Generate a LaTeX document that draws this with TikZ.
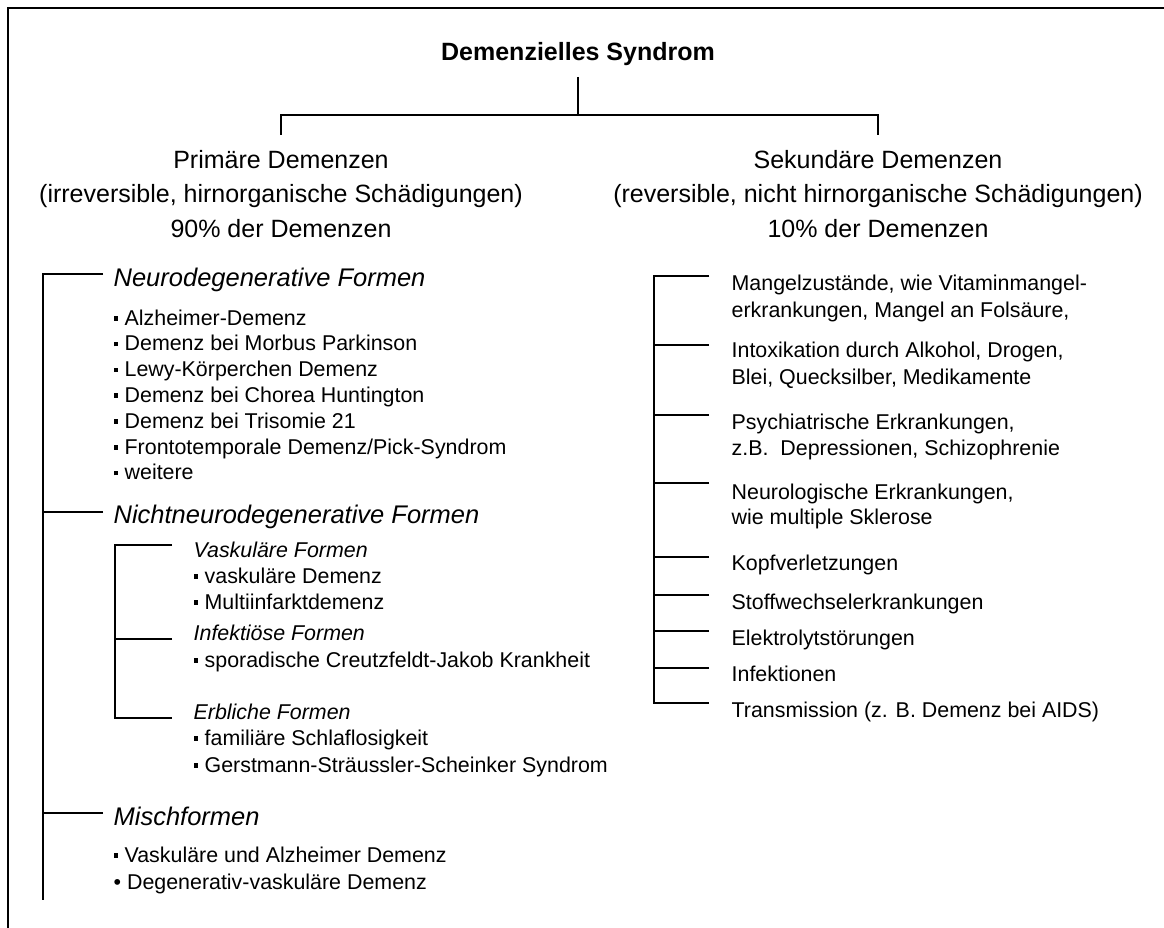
\documentclass[tikz,border=0pt]{standalone}
\usepackage{fontspec}
\setmainfont{Liberation Sans}
\usetikzlibrary{positioning}
\newcommand{\pkt}{\rule[4.5pt]{4.5pt}{4.5pt}\hspace{6.5pt}}

\begin{document}
\begin{tikzpicture}[x=1pt, y=-1pt, line width=1.3pt,
    every node/.style={inner sep=0pt, anchor=base west},
    titel/.style={font=\fontsize{25}{30}\selectfont\bfseries, anchor=base},
    haupt/.style={font=\fontsize{25}{30}\selectfont, anchor=base},
    form/.style={font=\fontsize{25.5}{30}\selectfont\itshape},
    unterform/.style={font=\fontsize{21.4}{26}\selectfont\itshape},
    punkt/.style={font=\fontsize{21.4}{26}\selectfont}]
    \useasboundingbox (0,0) rectangle (1164,928);
    \draw[line width=1.6pt] (8,928) -- (8,8) -- (1164,8);

    % Kopf
    \node [titel] (syndrom) at (578,61) {Demenzielles Syndrom};
    \node [haupt] (prim) at (281,169) {Primäre Demenzen};
    \node [haupt] (primA) at (281,203) {(irreversible, hirnorganische Schädigungen)};
    \node [haupt] (primB) at (281,237) {90\% der Demenzen};
    \node [haupt] (sek) at (878,169) {Sekundäre Demenzen};
    \node [haupt] (sekA) at (878,203) {(reversible, nicht hirnorganische Schädigungen)};
    \node [haupt] (sekB) at (878,237) {10\% der Demenzen};

    \coordinate (stamm) at (578,77);
    \coordinate (gabel) at (578,115);
    \coordinate (astL) at (281,135);
    \coordinate (astR) at (878,135);
    \draw (stamm) -- (gabel);
    \draw (astL) |- (gabel) -| (astR);

    % primaere Demenzen
    \node [form] (neuro) at (113,286) {Neurodegenerative Formen};
    \foreach \t [count=\i from 0] in {Alzheimer-Demenz, Demenz bei Morbus Parkinson,
        Lewy-Körperchen Demenz, Demenz bei Chorea Huntington, Demenz bei Trisomie 21,
        Frontotemporale Demenz/Pick-Syndrom, weitere}
        \node [punkt] (neuro\i) at (113,{325+25.8*\i}) {\pkt\t};
    \node [form] (nicht) at (113,523) {Nichtneurodegenerative Formen};
    \node [unterform] (vask) at (193,557) {Vaskuläre Formen};
    \node [punkt] (vask1) at (193,583) {\pkt vaskuläre Demenz};
    \node [punkt] (vask2) at (193,609) {\pkt Multiinfarktdemenz};
    \node [unterform] (infekt) at (193,640) {Infektiöse Formen};
    \node [punkt] (infekt1) at (193,667) {\pkt sporadische Creutzfeldt-Jakob Krankheit};
    \node [unterform] (erb) at (193,719) {Erbliche Formen};
    \node [punkt] (erb1) at (193,745) {\pkt familiäre Schlaflosigkeit};
    \node [punkt] (erb2) at (193,772) {\pkt Gerstmann-Sträussler-Scheinker Syndrom};
    \node [form] (misch) at (113,825) {Mischformen};
    \node [punkt] (misch1) at (113,862) {\pkt Vaskuläre und Alzheimer Demenz};
    \node [punkt] (misch2) at (113,889) {• Degenerativ-vaskuläre Demenz};

    \coordinate (lfuss) at (43,900);
    \coordinate (neuroast) at (103,274);
    \coordinate (nichtast) at (103,512);
    \coordinate (mischast) at (103,813);
    \draw (neuroast) -| (lfuss);
    \draw (nichtast) -- (nichtast -| lfuss);
    \draw (mischast) -- (mischast -| lfuss);

    \coordinate (ufuss) at (115,718);
    \coordinate (vaskast) at (172,545);
    \coordinate (infektast) at (172,639);
    \coordinate (erbast) at (172,718);
    \draw (vaskast) -| (ufuss) -- (erbast);
    \draw (infektast) -- (infektast -| ufuss);

    % sekundaere Demenzen
    \foreach \y/\t [count=\i] in {290/{Mangelzustände, wie Vitaminmangel-},
        317/{erkrankungen, Mangel an Folsäure,},
        357/{Intoxikation durch Alkohol, Drogen,},
        384/{Blei, Quecksilber, Medikamente},
        429/{Psychiatrische Erkrankungen,},
        455/{z.B.\ \ Depressionen, Schizophrenie},
        499/{Neurologische Erkrankungen,},
        524/{wie multiple Sklerose},
        570/{Kopfverletzungen}, 609/{Stoffwechselerkrankungen},
        645/{Elektrolytstörungen}, 681/{Infektionen},
        717/{Transmission (z. B. Demenz bei AIDS)}}
        \node [punkt] (sek\i) at (731,\y) {\t};

    \coordinate (rfuss) at (654,703);
    \foreach \y [count=\i] in {276,345,415,483,557,595,631,668}
    {
        \coordinate (rast\i) at (709,\y);
        \draw (rast\i) -- (rast\i -| rfuss);
    }
    \coordinate (rast9) at (709,703);
    \draw (rast1) -| (rfuss) -- (rast9);
\end{tikzpicture}
\end{document}
